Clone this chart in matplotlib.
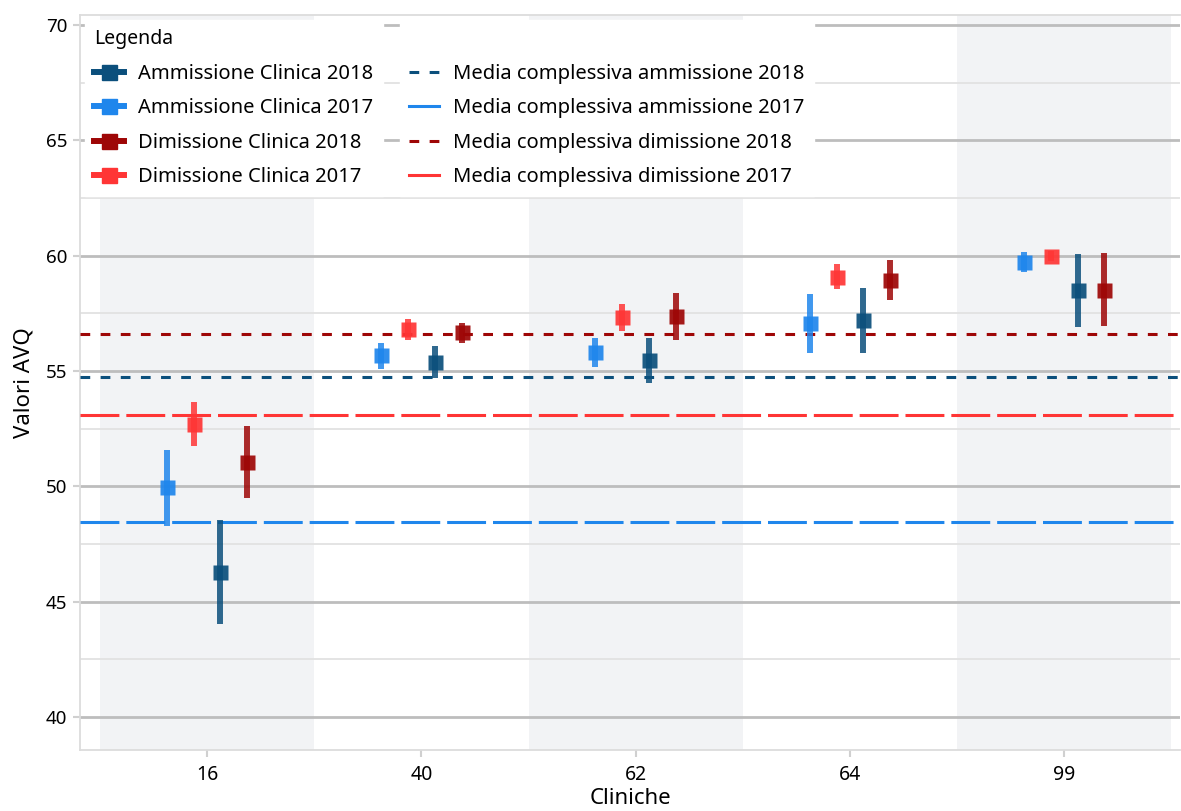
import matplotlib
matplotlib.use("Agg")
import matplotlib.pyplot as plt
from matplotlib.lines import Line2D
import numpy as np

plt.rcParams["font.family"] = ["Noto Sans", "DejaVu Sans"]
plt.rcParams["lines.scale_dashes"] = False

# Dati
cliniche = ["16", "40", "62", "64", "99"]

amm_2017 = [49.96, 55.68, 55.81, 57.07, 59.71]
amm_2017_lo = [48.28, 55.09, 55.19, 55.80, 59.29]
amm_2017_hi = [51.58, 56.23, 56.44, 58.32, 60.16]

dim_2017 = [52.69, 56.81, 57.33, 59.06, 59.97]
dim_2017_lo = [51.76, 56.36, 56.75, 58.54, 59.75]
dim_2017_hi = [53.66, 57.26, 57.89, 59.63, 60.19]

amm_2018 = [46.27, 55.38, 55.46, 57.20, 58.50]
amm_2018_lo = [44.02, 54.71, 54.47, 55.80, 56.91]
amm_2018_hi = [48.54, 56.09, 56.44, 58.60, 60.07]

dim_2018 = [51.04, 56.69, 57.37, 58.93, 58.50]
dim_2018_lo = [49.51, 56.23, 56.36, 58.09, 56.94]
dim_2018_hi = [52.62, 57.08, 58.37, 59.79, 60.10]

media_amm_2018 = 54.75
media_amm_2017 = 48.44
media_dim_2018 = 56.60
media_dim_2017 = 53.11

c_amm18 = "#0b4f7c"
c_amm17 = "#1f86ec"
c_dim18 = "#9e0606"
c_dim17 = "#ff3535"

fig = plt.figure(figsize=(11.81, 8.11), dpi=100)
ax = fig.add_axes([80 / 1181, (811 - 750) / 811, 1100 / 1181, (750 - 15) / 811])

x = np.arange(len(cliniche))

# bande grigie alternate
for i in range(0, len(cliniche), 2):
    ax.axvspan(i - 0.5, i + 0.5, color="#f2f3f5", zorder=0, lw=0)

ax.set_yticks(np.arange(40, 71, 5))
ax.set_yticks(np.arange(42.5, 71, 5), minor=True)
ax.grid(axis="y", which="major", color="#bdbdbd", lw=2.0, zorder=1)
ax.grid(axis="y", which="minor", color="#e2e2e2", lw=1.3, zorder=1)
ax.tick_params(axis="y", which="minor", length=0)

series = [
    (amm_2017, amm_2017_lo, amm_2017_hi, c_amm17, -0.1875),
    (dim_2017, dim_2017_lo, dim_2017_hi, c_dim17, -0.0625),
    (amm_2018, amm_2018_lo, amm_2018_hi, c_amm18, 0.0625),
    (dim_2018, dim_2018_lo, dim_2018_hi, c_dim18, 0.1875),
]
for vals, lo, hi, col, off in series:
    vals = np.array(vals)
    err = [vals - np.array(lo), np.array(hi) - vals]
    ax.errorbar(x + off, vals, yerr=err, fmt="none", ecolor=col, elinewidth=4.3,
                capsize=0, alpha=0.85, zorder=4)
    ax.plot(x + off, vals, "s", ms=10.8, color=col, alpha=0.92, mec="none", zorder=5)

# linee medie
ax.axhline(media_amm_2018, color=c_amm18, lw=2.2, dashes=(7, 7.5), zorder=3)
ax.axhline(media_amm_2017, color=c_amm17, lw=2.2, dashes=(28, 5), zorder=3)
ax.axhline(media_dim_2018, color=c_dim18, lw=2.2, dashes=(7, 7.5), zorder=3)
ax.axhline(media_dim_2017, color=c_dim17, lw=2.2, dashes=(28, 5), zorder=3)

ax.set_xlim(-0.593, 4.54)
ax.set_ylim(38.57, 70.43)
ax.set_xticks(x)
ax.set_xticklabels(cliniche, fontsize=14)
ax.tick_params(axis="y", labelsize=13.5, length=5, color="#d0d0d0", width=1.5, pad=4)
ax.tick_params(axis="x", length=5, color="#d0d0d0", width=1.5, pad=6)

for s in ["left", "bottom", "top"]:
    ax.spines[s].set_color("#dcdcdc")
    ax.spines[s].set_linewidth(1.3)
ax.spines["right"].set_visible(False)

ax.set_xlabel("Cliniche", fontsize=16, labelpad=2)
ax.set_ylabel("Valori AVQ", fontsize=16, labelpad=8)

# legende
h1 = [
    Line2D([0], [0], color=c_amm18, lw=4.3, marker="s", ms=10.8),
    Line2D([0], [0], color=c_amm17, lw=4.3, marker="s", ms=10.8),
    Line2D([0], [0], color=c_dim18, lw=4.3, marker="s", ms=10.8),
    Line2D([0], [0], color=c_dim17, lw=4.3, marker="s", ms=10.8),
]
l1 = ["Ammissione Clinica 2018", "Ammissione Clinica 2017",
      "Dimissione Clinica 2018", "Dimissione Clinica 2017"]
h2 = [
    Line2D([0], [0], color=c_amm18, lw=2.2, dashes=(7, 7.5)),
    Line2D([0], [0], color=c_amm17, lw=2.2),
    Line2D([0], [0], color=c_dim18, lw=2.2, dashes=(7, 7.5)),
    Line2D([0], [0], color=c_dim17, lw=2.2),
]
l2 = ["Media complessiva ammissione 2018", "Media complessiva ammissione 2017",
      "Media complessiva dimissione 2018", "Media complessiva dimissione 2017"]

leg_kw = dict(fontsize=14.5, frameon=True, facecolor="white", edgecolor="white",
              framealpha=1, fancybox=False, borderpad=0.45, labelspacing=0.72,
              handlelength=1.5, handletextpad=0.7, borderaxespad=0)
leg1 = ax.legend(h1, l1, title="Legenda", loc="upper left",
                 bbox_to_anchor=(5 / 1100, 1 - 5 / 735), alignment="left",
                 title_fontproperties={"size": 14, "weight": "bold"}, **leg_kw)
ax.add_artist(leg1)
leg2 = ax.legend(h2, l2, title=" ", loc="upper left",
                 bbox_to_anchor=(320 / 1100, 1 - 5 / 735),
                 title_fontproperties={"size": 14}, **leg_kw)
for lg in (leg1, leg2):
    lg.set_zorder(10)

fig.savefig("out.png", dpi=100)
